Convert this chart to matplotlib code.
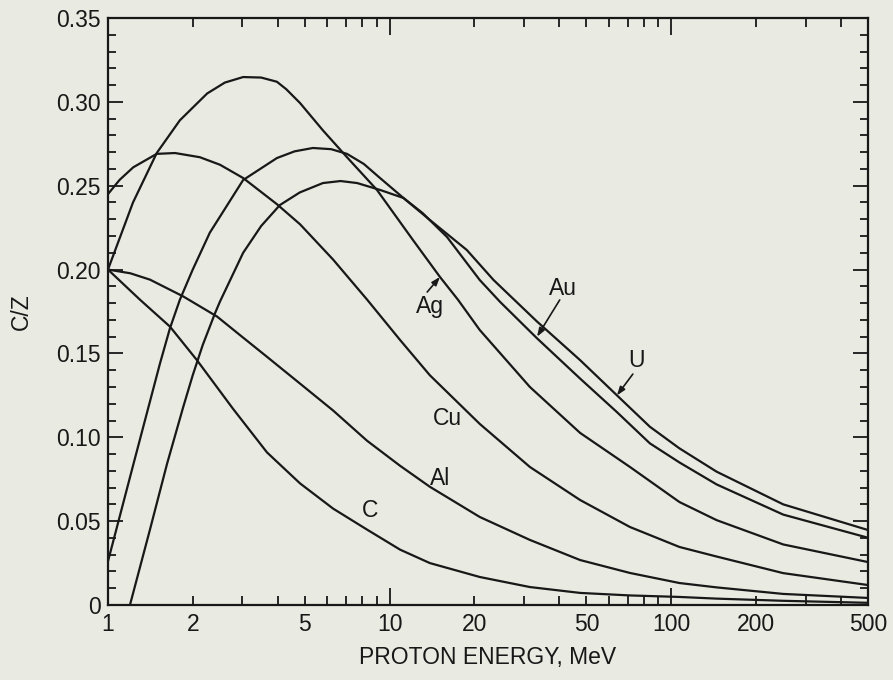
import matplotlib
matplotlib.use('Agg')
import matplotlib.pyplot as plt
from matplotlib.ticker import FixedLocator, FuncFormatter, MultipleLocator

plt.rcParams['font.family'] = ['Liberation Sans', 'DejaVu Sans']

# shell correction C/Z against proton energy (MeV)
energy_c = [1.0, 1.3, 1.66, 2.07, 2.78, 3.67, 4.81, 6.3, 8.31, 10.9, 13.9, 20.9, 31.5, 47.5, 71.4, 107, 145, 250, 500]
cz_c = [0.200, 0.182, 0.166, 0.146, 0.117, 0.091, 0.0725, 0.0575, 0.045, 0.033, 0.025, 0.0167, 0.0107, 0.0072, 0.0057, 0.0048, 0.0038, 0.0025, 0.0013]

energy_al = [1.0, 1.2, 1.41, 1.85, 2.44, 2.94, 3.67, 4.81, 6.3, 8.31, 10.9, 13.9, 20.9, 31.5, 47.5, 71.4, 107, 145, 250, 500]
cz_al = [0.200, 0.1978, 0.194, 0.184, 0.172, 0.161, 0.148, 0.132, 0.116, 0.098, 0.083, 0.0705, 0.0525, 0.0388, 0.0268, 0.0191, 0.0131, 0.0105, 0.0066, 0.0042]

energy_cu = [1.0, 1.1, 1.23, 1.49, 1.73, 2.12, 2.5, 3.02, 3.98, 4.81, 6.3, 8.33, 10.9, 13.9, 20.9, 31.5, 47.5, 71.4, 107, 145, 250, 500]
cz_cu = [0.245, 0.2535, 0.261, 0.269, 0.2695, 0.267, 0.2625, 0.2546, 0.239, 0.227, 0.206, 0.182, 0.158, 0.137, 0.108, 0.0823, 0.0626, 0.0465, 0.0346, 0.0289, 0.019, 0.0119]

energy_ag = [1.0, 1.227, 1.49, 1.80, 2.25, 2.6, 3.02, 3.5, 3.98, 4.3, 4.81, 5.80, 7.06, 9.02, 12.1, 15.1, 17.5, 20.9, 31.5, 47.5, 71.4, 107, 145, 250, 500]
cz_ag = [0.200, 0.240, 0.2695, 0.289, 0.305, 0.3115, 0.3148, 0.3145, 0.312, 0.3075, 0.2993, 0.283, 0.267, 0.2475, 0.2177, 0.1956, 0.182, 0.164, 0.130, 0.1026, 0.0823, 0.0614, 0.0506, 0.0361, 0.0256]

energy_au = [1.0, 1.227, 1.53, 1.66, 1.80, 2.0, 2.30, 3.02, 3.98, 4.6, 5.34, 6.2, 7.06, 8.1, 9.25, 11.2, 13.1, 16.0, 20.9, 24.7, 33.4, 47.5, 64.2, 84, 107, 145, 250, 500]
cz_au = [0.026, 0.083, 0.144, 0.165, 0.182, 0.200, 0.222, 0.2534, 0.2665, 0.2705, 0.2725, 0.2718, 0.269, 0.263, 0.2546, 0.2427, 0.2337, 0.2194, 0.1938, 0.1807, 0.159, 0.135, 0.115, 0.0964, 0.085, 0.0719, 0.0539, 0.0401]

energy_u = [1.197, 1.41, 1.62, 1.85, 2.0, 2.17, 2.40, 2.50, 3.02, 3.5, 4.08, 4.8, 5.80, 6.7, 7.67, 9.25, 11.2, 13.9, 18.8, 23.4, 33.4, 47.5, 64.2, 84, 107, 145, 250, 500]
cz_u = [0.0, 0.045, 0.084, 0.118, 0.137, 0.155, 0.174, 0.181, 0.210, 0.226, 0.2385, 0.246, 0.2516, 0.2528, 0.2516, 0.2475, 0.2427, 0.2296, 0.2117, 0.1938, 0.169, 0.146, 0.125, 0.1063, 0.0934, 0.0795, 0.060, 0.0447]

curves = [(energy_c, cz_c), (energy_al, cz_al), (energy_cu, cz_cu),
          (energy_ag, cz_ag), (energy_au, cz_au), (energy_u, cz_u)]

y_ticks = [0, 0.05, 0.10, 0.15, 0.20, 0.25, 0.30, 0.35]
y_tick_labels = ['0', '0.05', '0.10', '0.15', '0.20', '0.25', '0.30', '0.35']
x_labelled = [1, 2, 5, 10, 20, 50, 100, 200, 500]

bg = '#e9eae2'
ink = '#181818'

fig = plt.figure(figsize=(8.93, 6.8), dpi=100)
fig.patch.set_facecolor(bg)
ax = fig.add_axes([0.1209, 0.1103, 0.8511, 0.8632])
ax.set_facecolor(bg)

for e, v in curves:
    ax.plot(e, v, color=ink, lw=1.6, solid_joinstyle='round')

ax.set_xscale('log')
ax.set_xlim(1, 500)
ax.set_ylim(0, 0.35)

# x ticks: long at decades, short elsewhere
ax.xaxis.set_major_locator(FixedLocator([1, 10, 100]))
minor = [m * d for d in (1, 10, 100) for m in range(2, 10) if m * d <= 500]
ax.xaxis.set_minor_locator(FixedLocator(minor))
fmt = FuncFormatter(lambda x, pos: '%d' % round(x) if round(x) in x_labelled else '')
ax.xaxis.set_major_formatter(fmt)
ax.xaxis.set_minor_formatter(fmt)

ax.set_yticks(y_ticks)
ax.set_yticklabels(y_tick_labels)
ax.yaxis.set_minor_locator(MultipleLocator(0.01))

ax.tick_params(which='both', direction='in', top=True, right=True,
               colors=ink, labelsize=16.5, width=1.3)
ax.tick_params(axis='y', which='major', length=11, pad=5)
ax.tick_params(axis='y', which='minor', length=6)
ax.tick_params(axis='x', which='major', length=12, pad=6)
ax.tick_params(axis='x', which='minor', length=6.5, pad=6)

for s in ax.spines.values():
    s.set_linewidth(1.6)
    s.set_color(ink)

ax.set_xlabel('PROTON ENERGY, MeV', fontsize=16.5, color=ink)
ax.set_ylabel('C/Z', fontsize=16.5, color=ink)
ax.yaxis.set_label_coords(-0.099, 0.5)
ax.xaxis.set_label_coords(0.5, -0.07)

lab = dict(fontsize=16.5, color=ink, ha='center', va='center')
ax.text(8.5, 0.0566, 'C', **lab)
ax.text(15.1, 0.0757, 'Al', **lab)
ax.text(16.0, 0.1115, 'Cu', **lab)

arrow = dict(arrowstyle='-|>,head_length=0.5,head_width=0.18', color=ink, lw=1.2, shrinkA=0, shrinkB=0)
ax.annotate('', xy=(15.1, 0.1956), xytext=(13.6, 0.1866), arrowprops=arrow)
ax.text(13.9, 0.178, 'Ag', **lab)
ax.annotate('', xy=(33.4, 0.160), xytext=(40.2, 0.1819), arrowprops=arrow)
ax.text(41.3, 0.1885, 'Au', **lab)
ax.annotate('', xy=(64.2, 0.125), xytext=(73.1, 0.1377), arrowprops=arrow)
ax.text(75.6, 0.1455, 'U', **lab)

fig.savefig('out.png', dpi=100, facecolor=bg)
